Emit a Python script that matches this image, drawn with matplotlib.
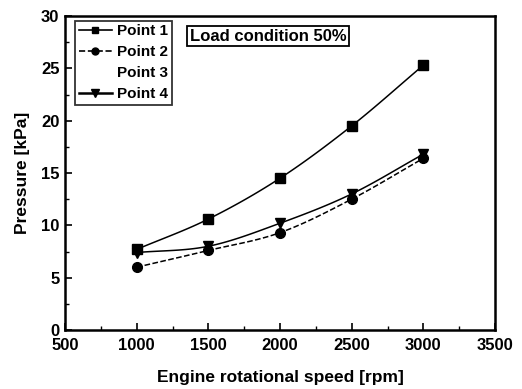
import numpy as np
import matplotlib
matplotlib.use("Agg")
import matplotlib.pyplot as plt

plt.rcParams['font.family'] = ['Liberation Sans', 'DejaVu Sans']
plt.rcParams['font.weight'] = 'bold'
plt.rcParams['axes.labelweight'] = 'bold'

rpm = [1000, 1500, 2000, 2500, 3000]
p1 = [7.7, 10.6, 14.5, 19.5, 25.3]
p2 = [6.0, 7.6, 9.3, 12.5, 16.4]
p4 = [7.4, 8.0, 10.2, 13.0, 16.8]


def smooth(x, y, n=20):
    # catmull-rom curve through the measured points
    x = np.asarray(x, float); y = np.asarray(y, float)
    px = np.concatenate([[2*x[0]-x[1]], x, [2*x[-1]-x[-2]]])
    py = np.concatenate([[2*y[0]-y[1]], y, [2*y[-1]-y[-2]]])
    t = np.linspace(0, 1, n)
    xs, ys = [], []
    for i in range(1, len(px)-2):
        for P, out in ((px, xs), (py, ys)):
            a, b, c, d = P[i-1], P[i], P[i+1], P[i+2]
            out.extend(0.5*((2*b) + (-a+c)*t + (2*a-5*b+4*c-d)*t**2
                            + (-a+3*b-3*c+d)*t**3))
    return xs, ys


fig = plt.figure(figsize=(5.22, 3.89), dpi=100)
ax = fig.add_axes([65/522, 1-330/389, 430/522, 314/389])

for y, ls, mk in ((p1, '-', 's'), (p2, '--', 'o'), (p4, '-', 'v')):
    sx, sy = smooth(rpm, y)
    ax.plot(sx, sy, color='k', ls=ls, lw=1.1)
    ax.plot(rpm, y, color='k', ls='none', marker=mk, ms=7)

# legend handles, incl. the empty Point 3 entry
h1, = ax.plot([], [], 'k-s', lw=1.2, ms=5, label='Point 1')
h2, = ax.plot([], [], 'k--o', lw=1.2, ms=5, label='Point 2')
h3, = ax.plot([], [], color='none', label='Point 3')
h4, = ax.plot([], [], 'k-v', lw=1.8, ms=6, label='Point 4')
leg = ax.legend(handles=[h1, h2, h3, h4], loc='upper left', fontsize=11,
                frameon=True, fancybox=False, edgecolor='k',
                handlelength=2.2, handletextpad=0.3, labelspacing=0.45,
                borderpad=0.25, borderaxespad=0.3,
                bbox_to_anchor=(0.012, 1.0))
leg.get_frame().set_linewidth(1.3)

ax.text(0.29, 0.96, 'Load condition 50%', transform=ax.transAxes,
        fontsize=12, va='top', ha='left',
        bbox=dict(boxstyle='square,pad=0.15', fc='white', ec='k', lw=1.3))

ax.set_xlim(500, 3500)
ax.set_ylim(0, 30)
ax.set_xticks(range(500, 3501, 500))
ax.set_xticks(range(750, 3500, 500), minor=True)
ax.set_yticks(range(0, 31, 5))
ax.set_yticks(np.arange(2.5, 30, 5), minor=True)
ax.tick_params(direction='in', which='major', length=5, width=1.2,
               labelsize=12, pad=4)
ax.tick_params(axis='x', which='major', pad=6)
ax.tick_params(direction='in', which='minor', length=3, width=1.0)
for s in ax.spines.values():
    s.set_linewidth(1.8)

ax.set_xlabel('Engine rotational speed [rpm]', fontsize=12.5, labelpad=12)
ax.set_ylabel('Pressure [kPa]', fontsize=12.5, labelpad=8)

fig.savefig('out.png', dpi=100)
